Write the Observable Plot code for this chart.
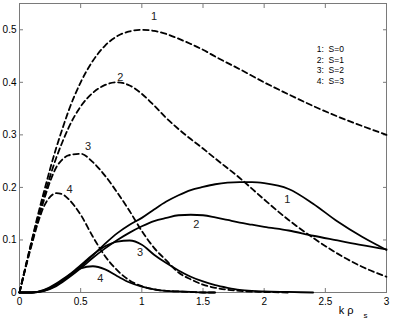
<!DOCTYPE html>
<html>
<head>
<meta charset="utf-8">
<script src="https://cdn.jsdelivr.net/npm/d3@7"></script>
<script src="https://cdn.jsdelivr.net/npm/@observablehq/plot@0.6"></script>
<style>
  html, body { margin: 0; padding: 0; background: #fff; }
  #chart svg { display: block; }
</style>
</head>
<body>
<div id="chart"></div>
<script>
// ---- data ----
const xTicks = [0, 0.5, 1, 1.5, 2, 2.5, 3];
const xTickLabels = ["0", "0.5", "1", "1.5", "2", "2.5", "3"];
const yTicks = [0, 0.1, 0.2, 0.3, 0.4, 0.5];
const yTickLabels = ["0", "0.1", "0.2", "0.3", "0.4", "0.5"];

// dashed curves (k rho_s grid and values)
const kDashed = [0, 0.05, 0.1, 0.15, 0.2, 0.25, 0.3, 0.35, 0.4, 0.5, 0.6, 0.7, 0.8, 0.9, 1.0, 1.1, 1.2, 1.3, 1.4, 1.5, 1.6, 1.8, 2.0, 2.2, 2.4, 2.6, 2.8, 3.0];
const dashedS0 = [0, 0.050, 0.099, 0.147, 0.192, 0.235, 0.275, 0.311, 0.345, 0.400, 0.441, 0.470, 0.488, 0.497, 0.500, 0.498, 0.492, 0.483, 0.473, 0.462, 0.449, 0.425, 0.400, 0.377, 0.355, 0.335, 0.317, 0.300];
const dashedS1 = [0, 0.049, 0.097, 0.142, 0.183, 0.221, 0.256, 0.286, 0.313, 0.354, 0.380, 0.395, 0.400, 0.394, 0.378, 0.356, 0.332, 0.311, 0.292, 0.274, 0.255, 0.218, 0.177, 0.138, 0.104, 0.074, 0.049, 0.030];
const dashedS2 = [0, 0.048, 0.094, 0.137, 0.176, 0.211, 0.238, 0.253, 0.261, 0.264, 0.248, 0.222, 0.190, 0.155, 0.117, 0.085, 0.061, 0.038, 0.025, 0.015, 0.009, 0.003, 0.001, 0, null, null, null, null];
const dashedS3 = [0, 0.047, 0.091, 0.132, 0.164, 0.182, 0.189, 0.187, 0.178, 0.148, 0.106, 0.069, 0.042, 0.023, 0.012, 0.006, 0.003, 0.002, 0.001, 0, 0, null, null, null, null, null, null, null];

// solid curves
const kSolid = [0, 0.1, 0.2, 0.3, 0.4, 0.5, 0.6, 0.7, 0.8, 0.9, 1.0, 1.1, 1.2, 1.3, 1.4, 1.5, 1.6, 1.7, 1.8, 1.9, 2.0, 2.2, 2.4, 2.6, 2.8, 3.0];
const solidS0 = [0, 0, 0.003, 0.014, 0.030, 0.049, 0.071, 0.093, 0.113, 0.129, 0.142, 0.158, 0.173, 0.185, 0.195, 0.201, 0.206, 0.209, 0.210, 0.210, 0.208, 0.197, 0.169, 0.135, 0.106, 0.081];
const solidS1 = [0, 0, 0.003, 0.012, 0.028, 0.046, 0.066, 0.084, 0.100, 0.114, 0.126, 0.136, 0.142, 0.147, 0.148, 0.147, 0.143, 0.138, 0.133, 0.129, 0.125, 0.118, 0.108, 0.099, 0.090, 0.082];
const solidS2 = [0, 0, 0.004, 0.015, 0.032, 0.052, 0.072, 0.088, 0.097, 0.099, 0.091, 0.072, 0.056, 0.042, 0.030, 0.021, 0.014, 0.009, 0.005, 0.003, 0.002, 0.001, 0, null, null, null];
const solidS3 = [0, 0, 0.005, 0.017, 0.033, 0.046, 0.050, 0.044, 0.031, 0.019, 0.011, 0.006, 0.003, 0.002, 0.001, 0, 0, null, null, null, null, null, null, null, null, null];

const seriesIds = ["1", "2", "3", "4"];
const legendLines = ["1:\u00a0\u00a0S=0", "2:\u00a0\u00a0S=1", "3:\u00a0\u00a0S=2", "4:\u00a0\u00a0S=3"];

// annotation anchors (data coordinates) for the curve numbers and legend rows
const dashedLabelK = [1.1, 0.825, 0.56, 0.41];
const dashedLabelV = [0.525, 0.41, 0.277, 0.196];
const solidLabelK = [2.19, 1.445, 0.985, 0.66];
const solidLabelV = [0.177, 0.13, 0.077, 0.026];
const legendK = 2.43;
const legendV = [0.462, 0.442, 0.422, 0.402];

// ---- build tables ----
function table(ks, lists) {
  const rows = [];
  lists.forEach((vals, j) => {
    ks.forEach((k, i) => {
      if (vals[i] !== null) rows.push({k, v: vals[i], s: seriesIds[j]});
    });
  });
  return rows;
}
const dashedRows = table(kDashed, [dashedS0, dashedS1, dashedS2, dashedS3]);
const solidRows = table(kSolid, [solidS0, solidS1, solidS2, solidS3]);
const labelRows = seriesIds.map((s, i) => ({s, k: dashedLabelK[i], v: dashedLabelV[i]}))
  .concat(seriesIds.map((s, i) => ({s, k: solidLabelK[i], v: solidLabelV[i]})));
const legendRows = legendLines.map((t, i) => ({t, k: legendK, v: legendV[i]}));

const gray = "#7a7a7a";
const font = "Liberation Sans, Arial, Helvetica, sans-serif";

const chart = Plot.plot({
  width: 393,
  height: 327,
  marginLeft: 19,
  marginRight: 7,
  marginTop: 3,
  marginBottom: 35,
  style: {fontFamily: font, background: "#fff", color: "#000"},
  x: {domain: [0, 3], label: null},
  y: {domain: [0, 0.55], label: null},
  marks: [
    Plot.frame({stroke: gray, strokeWidth: 1}),
    // inward ticks on all four sides
    Plot.axisX(xTicks, {anchor: "bottom", tickSize: -4, tickFormat: () => "", stroke: gray, label: null}),
    Plot.axisX(xTicks, {anchor: "top", tickSize: -4, tickFormat: () => "", stroke: gray, label: null}),
    Plot.axisY(yTicks, {anchor: "left", tickSize: -4, tickFormat: () => "", stroke: gray, label: null}),
    Plot.axisY(yTicks, {anchor: "right", tickSize: -4, tickFormat: () => "", stroke: gray, label: null}),
    // tick labels
    Plot.axisX(xTicks, {anchor: "bottom", tickSize: 0, tickPadding: 5, fontSize: 10, fill: "#000",
      tickFormat: d => xTickLabels[xTicks.indexOf(d)], label: null}),
    Plot.axisY(yTicks, {anchor: "left", tickSize: 0, tickPadding: 3, fontSize: 10, fill: "#000",
      tickFormat: d => yTickLabels[yTicks.indexOf(d)], label: null}),
    // curves
    Plot.line(dashedRows, {x: "k", y: "v", z: "s", stroke: "#000", strokeWidth: 1.8,
      strokeDasharray: "5.5,3.5", curve: "monotone-x"}),
    Plot.line(solidRows, {x: "k", y: "v", z: "s", stroke: "#000", strokeWidth: 1.8, curve: "monotone-x"}),
    // curve numbers
    Plot.text(labelRows, {x: "k", y: "v", text: "s", fontSize: 11, fill: "#222"}),
    // legend
    Plot.text(legendRows, {x: "k", y: "v", text: "t", textAnchor: "start", fontSize: 8.5, fill: "#000"}),
    // axis title k rho_s
    Plot.text(["k ρ"], {frameAnchor: "bottom-right", dx: -33, dy: 21, fontSize: 11, fill: "#000"}),
    Plot.text(["s"], {frameAnchor: "bottom-right", dx: -19, dy: 25, fontSize: 8, fill: "#000"})
  ]
});
document.getElementById("chart").appendChild(chart);
</script>
</body>
</html>
